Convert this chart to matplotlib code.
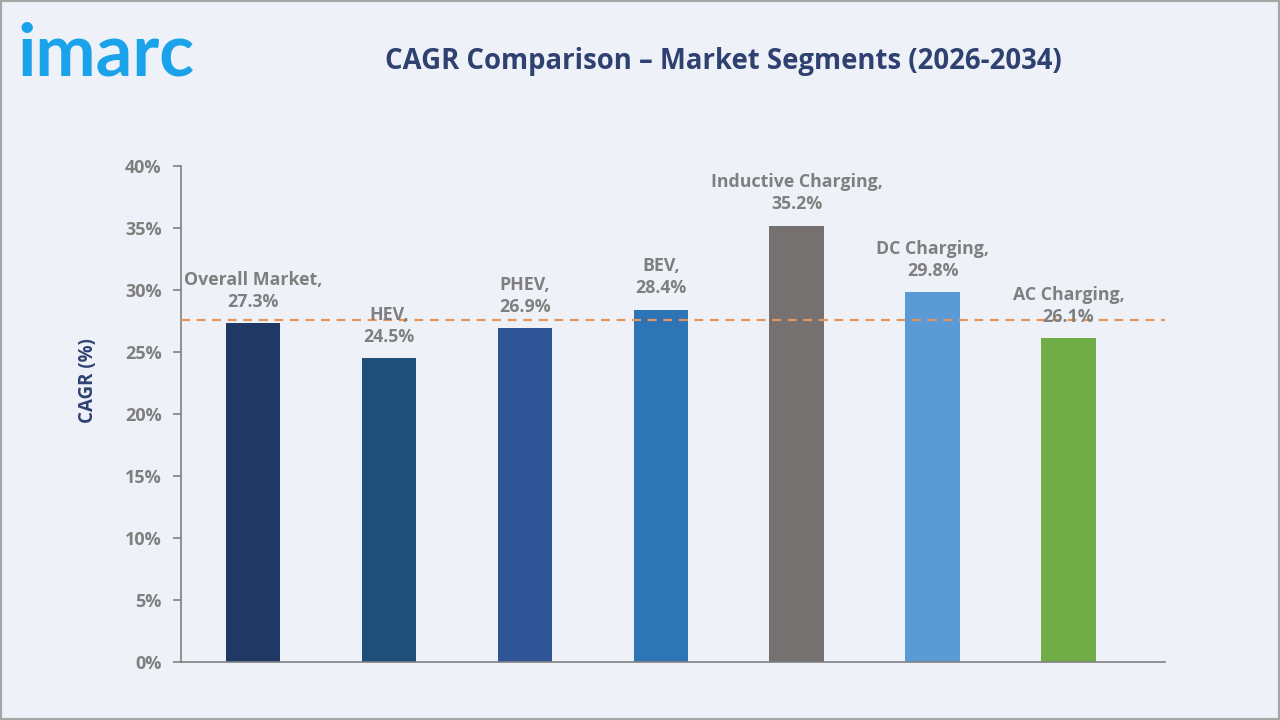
import matplotlib.pyplot as plt
from matplotlib.ticker import FuncFormatter
from matplotlib.patches import Rectangle

# data
segments = ["Overall Market", "HEV", "PHEV", "BEV", "Inductive Charging", "DC Charging", "AC Charging"]
cagr = [27.3, 24.5, 26.9, 28.4, 35.2, 29.8, 26.1]
bar_colors = ["#1F3864", "#1F4E79", "#2F5597", "#2E75B6", "#767171", "#5B9BD5", "#70AD47"]
ref_line = 27.6
yticks = [0, 5, 10, 15, 20, 25, 30, 35, 40]

bg = "#EEF2F8"
label_gray = "#7F7F7F"
navy = "#2E4170"

plt.rcParams['font.family'] = ['Open Sans', 'DejaVu Sans']

fig = plt.figure(figsize=(12.8, 7.2), dpi=100, facecolor=bg)
fig.patches.append(Rectangle((0, 0), 1, 1, transform=fig.transFigure, fill=False,
                             edgecolor="#A6A6A6", linewidth=3))

ax = fig.add_axes([181 / 1280, 58 / 720, 984 / 1280, 496 / 720])
ax.set_facecolor(bg)

x = list(range(len(segments)))
ax.bar(x, cagr, width=0.4, color=bar_colors, zorder=2)
ax.axhline(ref_line, color="#E5955A", linestyle=(0, (4, 3)), linewidth=1.6, zorder=3)

for xi, name, v in zip(x, segments, cagr):
    ax.annotate(f"{name},\n{v}%", (xi, v), xytext=(0, 9), textcoords="offset points",
                ha="center", va="bottom", fontsize=12.8, fontweight="bold",
                color=label_gray, linespacing=1.3)

ax.set_xlim(-0.53, 6.71)
ax.set_ylim(0, 40)
ax.set_yticks(yticks)
ax.yaxis.set_major_formatter(FuncFormatter(lambda v, p: f"{v:.0f}%"))
ax.set_xticks([])
ax.tick_params(axis="y", colors="#808080", labelcolor=label_gray, labelsize=13,
               length=6, width=1.2, pad=8)
for t in ax.get_yticklabels():
    t.set_fontweight("bold")

for s in ["top", "right"]:
    ax.spines[s].set_visible(False)
for s in ["left", "bottom"]:
    ax.spines[s].set_color("#808080")
    ax.spines[s].set_linewidth(1.2)

fig.text(88 / 1280, 1 - 381 / 720, "CAGR (%)", rotation=90, ha="center", va="center",
         fontsize=13.5, fontweight="bold", color=navy)

fig.text(0.565, 0.915, "CAGR Comparison \u2013 Market Segments (2026-2034)", ha="center", va="center",
         fontsize=19.8, fontweight="bold", color=navy)
fig.text(0.014, 1 - 75 / 720, "imarc", ha="left", va="baseline", fontsize=52, fontweight="bold",
         color="#1AA3EA", family=["Lato", "DejaVu Sans"])

fig.savefig("out.png", dpi=100, facecolor=bg)
